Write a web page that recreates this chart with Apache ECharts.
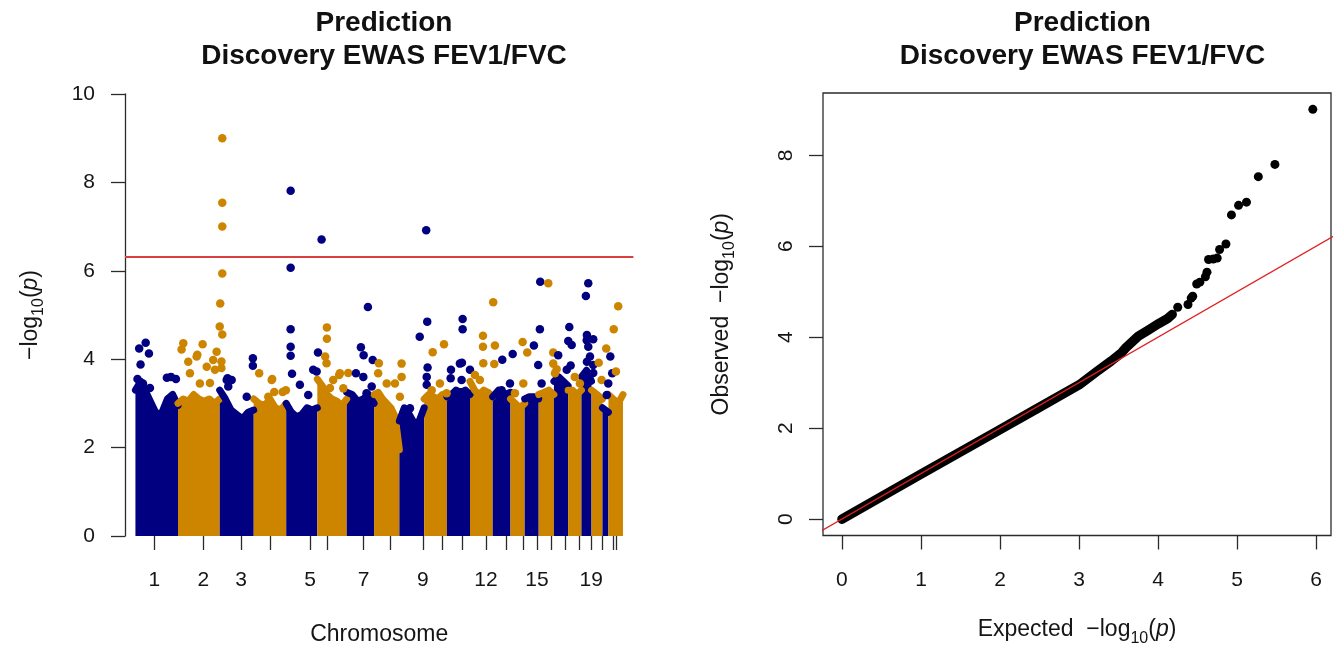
<!DOCTYPE html>
<html><head><meta charset="utf-8">
<script src="https://cdn.jsdelivr.net/npm/echarts@6/dist/echarts.min.js"></script>
<style>html,body{margin:0;padding:0;background:#fff}#c{width:1335px;height:647px}</style>
</head><body><div id="c"></div>
<script>
// ---------- Manhattan plot data ----------
const chromosomes = ['1','2','3','4','5','6','7','8','9','10','11','12','13','14','15','16','17','18','19','20','21','22'];
// cumulative genomic position (Mb) of each chromosome's data block
const chrStart = [0, 249, 493, 692, 882, 1064, 1236, 1396, 1544, 1689, 1822, 1957, 2090, 2194, 2277, 2359, 2448, 2531, 2609, 2668, 2732, 2767];
const chrEnd   = [249, 493, 692, 882, 1064, 1236, 1396, 1544, 1689, 1822, 1957, 2090, 2194, 2277, 2359, 2448, 2531, 2609, 2668, 2732, 2767, 2852];
const chrTicks = [111, 397, 618, 790, 1022, 1123, 1334, 1490, 1682, 1792, 1911, 2051, 2169, 2268, 2349, 2433, 2514, 2597, 2666, 2733, 2795, 2814];
const chrTickLabels = ['1','2','3','','5','','7','','9','','','12','','','15','','','','19','','',''];
// upper edge of the dense cloud of points (-log10 p), sampled along each chromosome
const denseTops = [
  [3.3, 3.5, 3.25, 3.0, 2.75, 2.8, 3.1, 3.2, 2.95],
  [3.0, 3.1, 3.05, 3.2, 3.1, 3.05, 3.1, 3.0, 3.1],
  [3.3, 3.1, 2.85, 2.75, 2.65, 2.8, 2.85],
  [3.1, 3.0, 2.95, 3.1, 2.9, 2.85, 3.0],
  [3.0, 2.8, 2.7, 2.75, 2.9, 2.85, 2.9],
  [3.55, 3.4, 3.2, 3.1, 3.05, 2.95, 3.1],
  [3.25, 3.2, 3.05, 3.1, 3.2, 3.0],
  [3.2, 3.25, 3.1, 3.0, 2.9, 2.7, 1.95],
  [2.6, 2.9, 2.75, 2.55, 2.6, 2.9],
  [3.1, 3.2, 3.15, 3.1, 3.2, 3.15],
  [3.15, 3.2, 3.3, 3.25, 3.3, 3.2],
  [3.5, 3.3, 3.2, 3.3, 3.25, 3.15],
  [3.15, 3.3, 3.2, 3.25],
  [3.1, 3.0, 2.9, 3.0],
  [3.1, 3.15, 3.15, 3.1],
  [3.2, 3.25, 3.3, 3.2],
  [3.5, 3.6, 3.5, 3.4],
  [3.3, 3.3, 3.2, 3.3],
  [3.6, 3.75, 3.5],
  [3.3, 3.2, 3.1],
  [2.9, 2.8],
  [3.2, 3.1, 3.0, 3.2]
];
// individual CpGs standing above the cloud: [chromosome index, position (Mb), -log10 p]
const topHits = [
  [0,60,4.37],[0,22,4.24],[0,79,4.13],[0,30,3.88],[0,12,3.55],[0,44,3.45],[0,85,3.35],[0,184,3.58],[0,208,3.6],[0,237,3.55],
  [1,280,4.36],[1,270,4.22],[1,393,4.34],[1,362,4.1],[1,475,4.17],[1,455,3.98],[1,309,3.94],[1,358,4.06],[1,417,3.83],[1,465,3.76],[1,377,3.45],[1,319,3.68],[1,436,3.46],
  [1,508,9.0],[1,508,7.54],[1,508,7.0],[1,508,5.94],[1,496,5.26],[1,493,4.74],[1,508,4.56],[1,503,3.95],[1,503,3.8],
  [2,687,4.02],[2,687,3.85],[2,534,3.53],[2,563,3.53],[2,543,3.38],[2,651,3.15],[2,539,3.57],
  [3,724,3.68],[3,797,3.53],[3,861,3.26],[3,812,3.26],[3,880,3.3],[3,777,3.15],[3,800,3.55],
  [4,908,7.81],[4,908,6.07],[4,908,4.68],[4,908,4.28],[4,908,4.08],[4,916,3.67],[4,962,3.42],[4,1011,3.19],[4,1040,3.76],[4,1060,3.72],[4,1068,4.15],[4,1089,6.71],
  [5,1120,4.72],[5,1120,4.46],[5,1110,4.06],[5,1192,3.64],[5,1245,3.69],[5,1118,3.91],[5,1157,3.53],[5,1196,3.68],[5,1138,3.35],[5,1216,3.34],
  [6,1360,5.18],[6,1319,4.27],[6,1335,4.09],[6,1290,3.68],[6,1388,3.98],[6,1333,3.6],[6,1382,3.38],[6,1352,3.23],
  [7,1424,3.91],[7,1420,3.68],[7,1470,3.45],[7,1518,3.45],[7,1557,3.9],[7,1557,3.6],[7,1547,3.15],
  [8,1701,6.92],[8,1707,4.85],[8,1663,4.51],[8,1709,3.81],[8,1704,3.6],[8,1704,3.42],[8,1606,2.89],
  [9,1805,4.34],[9,1739,4.16],[9,1781,3.45],[9,1733,3.3],[9,1820,3.23],
  [10,1914,4.91],[10,1914,4.68],[10,1910,3.92],[10,1846,3.76],[10,1844,3.57],[10,1898,3.9],[10,1908,3.53],[10,1957,3.76],
  [11,2093,5.29],[11,2033,4.53],[11,2033,4.28],[11,2103,4.31],[11,2035,3.91],[11,2099,3.89],[11,1986,3.64],[11,2015,3.53],
  [12,2146,3.99],[12,2207,4.12],[12,2142,3.3],[12,2191,3.45],
  [13,2265,4.39],[13,2292,4.15],[13,2220,3.23],[13,2269,3.45],
  [14,2368,5.75],[14,2366,4.68],[14,2331,4.31],[14,2356,3.87],[14,2376,3.45],
  [15,2415,5.72],[15,2444,4.15],[15,2464,3.77],[15,2444,3.9],[15,2454,3.68],
  [16,2473,4.09],[16,2538,4.73],[16,2532,4.41],[16,2552,4.32],[16,2546,3.86],[16,2523,3.76],
  [17,2600,3.45],[17,2570,3.6],
  [18,2649,5.72],[18,2635,5.43],[18,2641,4.55],[18,2678,4.45],[18,2649,4.28],[18,2641,3.94],[18,2678,3.69],[18,2640,4.43],[18,2659,4.06],[18,2678,3.87],
  [19,2710,3.92],[19,2754,4.24],[19,2727,3.53],
  [20,2778,4.06],[20,2789,3.68],[20,2766,3.45],[20,2757,3.19],
  [21,2824,5.2],[21,2798,4.68],[21,2811,3.72]
];
const threshold = 6.32;
const manhattanYTicks = [0, 2, 4, 6, 8, 10];

// ---------- QQ plot data ----------
// dense part of the QQ curve: [expected, observed]
const qqBand = [[0,0],[1,0.99],[2,1.97],[2.5,2.46],[3.0,2.95],[3.23,3.25],[3.41,3.48],[3.54,3.66],[3.6,3.78],[3.75,4.02],[3.88,4.16],[4.01,4.30],[4.12,4.41],[4.18,4.50]];
// separate points in the tail: [expected, observed]
const qqTail = [[4.25,4.66],[4.38,4.72],[4.42,4.86],[4.44,4.90],[4.49,5.17],[4.53,5.21],[4.60,5.33],[4.62,5.43],[4.64,5.71],[4.70,5.72],[4.75,5.74],[4.78,5.93],[4.86,6.05],[4.93,6.69],[5.02,6.90],[5.12,6.97],[5.27,7.53],[5.48,7.80],[5.96,9.01]];
const identityLine = [[-1,-1],[7,7]];
const qqXTicks = [0, 1, 2, 3, 4, 5, 6];
const qqYTicks = [0, 2, 4, 6, 8];

// ---------- styling ----------
const FONT = 'Liberation Sans, Arial, Helvetica, sans-serif';
const chrColors = ['#000080', '#CD8500'];
const axisCol = '#2b2b2b';
const txtCol = '#151515';
const richLog = {
  b: {fontSize: 23, fontFamily: FONT, color: txtCol, lineHeight: 26, verticalAlign: 'top'},
  s: {fontSize: 16, fontFamily: FONT, color: txtCol, lineHeight: 16, padding: [12, 0, 0, 0], verticalAlign: 'top'},
  i: {fontSize: 23, fontFamily: FONT, color: txtCol, lineHeight: 26, fontStyle: 'italic', verticalAlign: 'top'}
};
const logName = '{b|−log}{s|10}{b|(}{i|p}{b|)}';

const series = [];
chromosomes.forEach((c, i) => {
  const tops = denseTops[i];
  const n = tops.length;
  const col = chrColors[i % 2];
  const data = tops.map((h, k) => [chrStart[i] + (chrEnd[i] - chrStart[i]) * k / (n - 1), h]);
  series.push({
    name: 'chr' + c, type: 'line', xAxisIndex: 0, yAxisIndex: 0, data,
    symbol: 'none', showSymbol: false, silent: true, clip: true, z: 2,
    lineStyle: {color: col, width: 7, cap: 'round', join: 'round'},
    areaStyle: {color: col, opacity: 1}
  });
});
series.push({
  name: 'top CpGs', type: 'scatter', xAxisIndex: 0, yAxisIndex: 0, z: 3,
  data: topHits.map(d => [d[1], d[2], d[0]]),
  symbolSize: 8.5,
  itemStyle: {color: p => chrColors[p.data[2] % 2], opacity: 1},
  markLine: {
    silent: true, symbol: 'none', label: {show: false},
    lineStyle: {color: '#d9403f', width: 2, type: 'solid'},
    data: [{yAxis: threshold}]
  }
});
series.push({
  name: 'QQ band', type: 'line', xAxisIndex: 1, yAxisIndex: 1, data: qqBand,
  symbol: 'none', showSymbol: false, silent: true, z: 2,
  lineStyle: {color: '#000', width: 9.5, cap: 'round', join: 'round'}
});
series.push({
  name: 'QQ tail', type: 'scatter', xAxisIndex: 1, yAxisIndex: 1, data: qqTail,
  symbolSize: 9, itemStyle: {color: '#000', opacity: 1}, z: 3
});
series.push({
  name: 'y = x', type: 'line', xAxisIndex: 1, yAxisIndex: 1, data: identityLine,
  symbol: 'none', showSymbol: false, silent: true, clip: true, z: 4,
  lineStyle: {color: '#e02020', width: 1.3}
});

const labelled = chrTicks.filter((t, i) => chrTickLabels[i] !== '');

const titleStyle = {fontSize: 28, fontWeight: 'bold', lineHeight: 33, color: '#111', fontFamily: FONT};
const option = {
  animation: false,
  backgroundColor: '#fff',
  textStyle: {fontFamily: FONT},
  title: [
    {text: 'Prediction\nDiscovery EWAS FEV1/FVC', left: 379, top: 2, textAlign: 'center', textStyle: titleStyle},
    {text: 'Prediction\nDiscovery EWAS FEV1/FVC', left: 1077.5, top: 2, textAlign: 'center', textStyle: titleStyle}
  ],
  grid: [
    {left: 125, top: 94, width: 508.4, height: 442, outerBoundsMode: 'none', containLabel: false},
    {left: 823, top: 93, width: 508, height: 442.5, outerBoundsMode: 'none', containLabel: false,
     show: true, borderColor: axisCol, borderWidth: 1.3, backgroundColor: 'transparent'}
  ],
  xAxis: [
    {gridIndex: 0, type: 'value', min: -61, max: 2913,
     axisLine: {show: false, onZero: false},
     axisTick: {show: true, customValues: chrTicks, length: 14, lineStyle: {color: axisCol, width: 1.3}},
     axisLabel: {customValues: labelled, fontSize: 21, color: txtCol, margin: 34,
       formatter: v => { const i = chrTicks.indexOf(v); return i >= 0 ? chrTickLabels[i] : ''; }},
     splitLine: {show: false},
     name: 'Chromosome', nameLocation: 'middle', nameGap: 87,
     nameTextStyle: {fontSize: 23, color: txtCol, fontFamily: FONT}},
    {gridIndex: 1, type: 'value', min: -0.24, max: 6.19,
     axisLine: {show: false, onZero: false},
     axisTick: {show: true, customValues: qqXTicks, length: 14, lineStyle: {color: axisCol, width: 1.3}},
     axisLabel: {customValues: qqXTicks, fontSize: 21, color: txtCol, margin: 34},
     splitLine: {show: false},
     name: '{b|Expected  }' + logName, nameLocation: 'middle', nameGap: 83,
     nameTextStyle: {rich: richLog}}
  ],
  yAxis: [
    {gridIndex: 0, type: 'value', min: 0, max: 10, interval: 2,
     axisLine: {show: true, onZero: false, lineStyle: {color: axisCol, width: 1.3}},
     axisTick: {show: true, length: 14, lineStyle: {color: axisCol, width: 1.3}},
     axisLabel: {fontSize: 21, color: txtCol, margin: 30},
     splitLine: {show: false},
     name: logName, nameLocation: 'middle', nameGap: 80, nameRotate: 90,
     nameTextStyle: {rich: richLog}},
    {gridIndex: 1, type: 'value', min: -0.36, max: 9.37,
     axisLine: {show: false, onZero: false},
     axisTick: {show: true, customValues: qqYTicks, length: 14, lineStyle: {color: axisCol, width: 1.3}},
     axisLabel: {customValues: qqYTicks, fontSize: 21, color: txtCol, margin: 26, rotate: 90},
     splitLine: {show: false},
     name: '{b|Observed  }' + logName, nameLocation: 'middle', nameGap: 87, nameRotate: 90,
     nameTextStyle: {rich: richLog}}
  ],
  series
};
const chart = echarts.init(document.getElementById('c'), null, {renderer: 'canvas'});
chart.setOption(option);
</script></body></html>
